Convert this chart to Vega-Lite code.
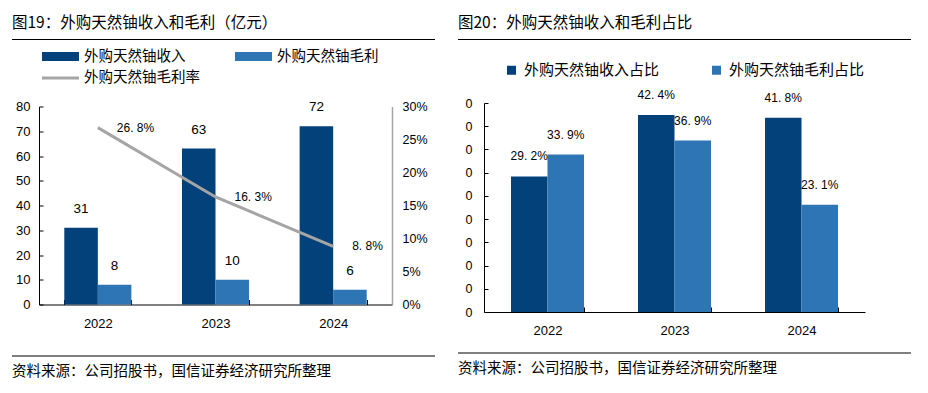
{
  "$schema": "https://vega.github.io/schema/vega-lite/v6.json",
  "padding": {"left": 12, "top": 16, "right": 4, "bottom": 4},
  "background": "white",
  "resolve": {"scale": {"color": "independent", "xOffset": "independent", "x": "independent", "y": "independent"}, "legend": {"color": "independent"}},
  "config": {
    "font": "Liberation Sans",
    "view": {"stroke": null},
    "title": {"font": "Noto Sans CJK SC", "fontWeight": "normal", "color": "#000", "anchor": "start", "frame": "group"},
    "axis": {"labelColor": "#000", "domainColor": "#000", "tickColor": "#000", "grid": false, "labelFont": "Liberation Sans", "labelFontSize": 13, "labelOverlap": false},
    "legend": {"labelFont": "Noto Sans CJK SC", "labelColor": "#000", "padding": 0, "labelLimit": 400}
  },
  "datasets": {
    "bars": [
      {"year": "2022", "series": "外购天然铀收入", "value": 31},
      {"year": "2022", "series": "外购天然铀毛利", "value": 8},
      {"year": "2023", "series": "外购天然铀收入", "value": 63},
      {"year": "2023", "series": "外购天然铀毛利", "value": 10},
      {"year": "2024", "series": "外购天然铀收入", "value": 72},
      {"year": "2024", "series": "外购天然铀毛利", "value": 6}
    ],
    "rate": [
      {"year": "2022", "rate": 0.268, "label": "26. 8%"},
      {"year": "2023", "rate": 0.163, "label": "16. 3%"},
      {"year": "2024", "rate": 0.088, "label": "8. 8%"}
    ],
    "share": [
      {"year": "2022", "kind": "外购天然铀收入占比", "share": 0.292, "label": "29. 2%"},
      {"year": "2022", "kind": "外购天然铀毛利占比", "share": 0.339, "label": "33. 9%"},
      {"year": "2023", "kind": "外购天然铀收入占比", "share": 0.424, "label": "42. 4%"},
      {"year": "2023", "kind": "外购天然铀毛利占比", "share": 0.369, "label": "36. 9%"},
      {"year": "2024", "kind": "外购天然铀收入占比", "share": 0.418, "label": "41. 8%"},
      {"year": "2024", "kind": "外购天然铀毛利占比", "share": 0.231, "label": "23. 1%"}
    ]
  },
  "hconcat": [
    {
      "spacing": 19.5,
      "resolve": {"scale": {"color": "independent", "xOffset": "independent"}, "legend": {"color": "independent"}},
      "vconcat": [
        {
          "spacing": 3.5,
          "resolve": {"scale": {"color": "independent", "xOffset": "independent"}, "legend": {"color": "independent"}},
          "vconcat": [
            {
              "width": 423, "height": 1,
              "view": {"fill": "#000", "stroke": null},
              "title": {"text": "图19：外购天然铀收入和毛利（亿元）", "fontSize": 15.5, "offset": 2},
              "data": {"values": [{}]},
              "mark": {"type": "text"},
              "encoding": {"text": {"value": ""}}
            },
            {
              "width": 423, "height": 198,
              "resolve": {"scale": {"y": "independent"}},
              "layer": [
                {
                  "data": {"name": "bars"},
                  "layer": [
                    {
                      "mark": {"type": "bar"},
                      "encoding": {
                        "x": {"field": "year", "type": "nominal", "scale": {"range": [27, 380], "paddingInner": 0.43, "paddingOuter": 0.215},
                              "axis": {"title": null, "labelAngle": 0, "tickBand": "extent", "tickSize": -5, "labelPadding": 17.5}},
                        "xOffset": {"field": "series", "type": "nominal", "scale": {"paddingOuter": 0, "paddingInner": 0}},
                        "y": {"field": "value", "type": "quantitative", "scale": {"domain": [0, 80], "nice": false},
                              "axis": {"orient": "left", "offset": -27, "title": null, "values": [0, 10, 20, 30, 40, 50, 60, 70, 80], "tickSize": -4, "labelPadding": 13}},
                        "color": {"field": "series", "type": "nominal",
                                  "scale": {"domain": ["外购天然铀收入", "外购天然铀毛利", "外购天然铀毛利率"], "range": ["#02417A", "#2E75B6", "#A5A5A5"]},
                                  "legend": {"orient": "none", "legendX": 30, "legendY": -57.5, "title": null, "columns": 2, "direction": "horizontal",
                                             "columnPadding": 35, "rowPadding": 5.5, "labelFontSize": 14.5, "labelOffset": 5, "symbolSize": 1369, "symbolStrokeWidth": 0, "clipHeight": 15,
                                             "encode": {"symbols": {"update": {
                                               "shape": {"signal": "datum.value === '外购天然铀毛利率' ? 'M-1,-0.08H1V0.08H-1Z' : 'M-1,-0.243H1V0.243H-1Z'"},
                                               "fill": {"signal": "datum.value === '外购天然铀收入' ? '#02417A' : datum.value === '外购天然铀毛利' ? '#2E75B6' : '#A5A5A5'"},
                                               "opacity": {"value": 1}, "fillOpacity": {"value": 1}
                                             }}}}}
                      }
                    },
                    {
                      "mark": {"type": "text", "dy": -19, "baseline": "middle", "fontSize": 13.5, "color": "#000"},
                      "encoding": {
                        "x": {"field": "year", "type": "nominal", "scale": {"range": [27, 380], "paddingInner": 0.43, "paddingOuter": 0.215},
                              "axis": {"title": null, "labelAngle": 0, "tickBand": "extent", "tickSize": -5, "labelPadding": 17.5}},
                        "xOffset": {"field": "series", "type": "nominal", "scale": {"paddingOuter": 0, "paddingInner": 0}},
                        "y": {"field": "value", "type": "quantitative", "scale": {"domain": [0, 80], "nice": false},
                              "axis": {"orient": "left", "offset": -27, "title": null, "values": [0, 10, 20, 30, 40, 50, 60, 70, 80], "tickSize": -4, "labelPadding": 13}},
                        "text": {"field": "value", "type": "quantitative"}
                      }
                    }
                  ]
                },
                {
                  "data": {"name": "rate"},
                  "layer": [
                    {
                      "mark": {"type": "line", "strokeWidth": 3},
                      "encoding": {
                        "x": {"field": "year", "type": "nominal", "scale": {"range": [27, 380], "paddingInner": 0.43, "paddingOuter": 0.215},
                              "axis": {"title": null, "labelAngle": 0, "tickBand": "extent", "tickSize": -5, "labelPadding": 17.5}},
                        "y": {"field": "rate", "type": "quantitative", "scale": {"domain": [0, 0.3], "nice": false},
                              "axis": {"orient": "right", "offset": -43, "title": null, "values": [0, 0.05, 0.1, 0.15, 0.2, 0.25, 0.3], "format": ".0%", "ticks": false, "labelPadding": 10, "domainColor": "#A5A5A5", "domainWidth": 1.5, "labelFontSize": 12.5}},
                        "color": {"datum": "外购天然铀毛利率", "type": "nominal"}
                      }
                    },
                    {
                      "mark": {"type": "text", "align": "left", "dx": 19, "baseline": "middle", "fontSize": 12, "color": "#000"},
                      "encoding": {
                        "x": {"field": "year", "type": "nominal", "scale": {"range": [27, 380], "paddingInner": 0.43, "paddingOuter": 0.215},
                              "axis": {"title": null, "labelAngle": 0, "tickBand": "extent", "tickSize": -5, "labelPadding": 17.5}},
                        "y": {"field": "rate", "type": "quantitative", "scale": {"domain": [0, 0.3], "nice": false},
                              "axis": {"orient": "right", "offset": -43, "title": null, "values": [0, 0.05, 0.1, 0.15, 0.2, 0.25, 0.3], "format": ".0%", "ticks": false, "labelPadding": 10, "domainColor": "#A5A5A5", "domainWidth": 1.5, "labelFontSize": 12.5}},
                        "text": {"field": "label", "type": "nominal"}
                      }
                    }
                  ]
                }
              ]
            }
          ]
        },
        {
          "width": 423, "height": 1,
          "view": {"fill": "#000", "stroke": null},
          "title": {"text": "资料来源：公司招股书，国信证券经济研究所整理", "orient": "bottom", "fontSize": 14.5, "offset": 4},
          "data": {"values": [{}]},
          "mark": {"type": "text"},
          "encoding": {"text": {"value": ""}}
        }
      ]
    },
    {
      "spacing": 8.5,
      "resolve": {"scale": {"color": "independent", "xOffset": "independent"}, "legend": {"color": "independent"}},
      "vconcat": [
        {
          "spacing": 17,
          "resolve": {"scale": {"color": "independent", "xOffset": "independent"}, "legend": {"color": "independent"}},
          "vconcat": [
            {
              "width": 453, "height": 1,
              "view": {"fill": "#000", "stroke": null},
              "title": {"text": "图20：外购天然铀收入和毛利占比", "fontSize": 15.5, "offset": 2},
              "data": {"values": [{}]},
              "mark": {"type": "text"},
              "encoding": {"text": {"value": ""}}
            },
            {
              "width": 453, "height": 209,
              "data": {"name": "share"},
              "layer": [
                {
                  "mark": {"type": "bar"},
                  "encoding": {
                    "x": {"field": "year", "type": "nominal", "scale": {"range": [26, 407], "paddingInner": 0.425, "paddingOuter": 0.2125},
                          "axis": {"title": null, "labelAngle": 0, "tickBand": "extent", "tickSize": -5, "labelPadding": 17.5}},
                    "xOffset": {"field": "kind", "type": "nominal", "scale": {"paddingOuter": 0, "paddingInner": 0}},
                    "y": {"field": "share", "type": "quantitative", "scale": {"domain": [0, 0.45], "nice": false},
                          "axis": {"title": null, "offset": -26, "values": [0, 0.05, 0.1, 0.15, 0.2, 0.25, 0.3, 0.35, 0.4, 0.45], "labelExpr": "'0'", "tickSize": -4, "labelPadding": 16, "labelFontSize": 12.5}},
                    "color": {"field": "kind", "type": "nominal",
                              "scale": {"domain": ["外购天然铀收入占比", "外购天然铀毛利占比"], "range": ["#02417A", "#2E75B6"]},
                              "legend": {"orient": "none", "legendX": 46, "legendY": -40.5, "title": null, "columns": 2, "direction": "horizontal", "clipHeight": 15,
                                         "columnPadding": 49, "labelFontSize": 15, "labelOffset": 5, "symbolType": "square", "symbolSize": 81, "symbolStrokeWidth": 0, "symbolOpacity": 1}}
                  }
                },
                {
                  "mark": {"type": "text", "dy": -20, "baseline": "middle", "fontSize": 12, "color": "#000"},
                  "encoding": {
                    "x": {"field": "year", "type": "nominal", "scale": {"range": [26, 407], "paddingInner": 0.425, "paddingOuter": 0.2125},
                          "axis": {"title": null, "labelAngle": 0, "tickBand": "extent", "tickSize": -5, "labelPadding": 17.5}},
                    "xOffset": {"field": "kind", "type": "nominal", "scale": {"paddingOuter": 0, "paddingInner": 0}},
                    "y": {"field": "share", "type": "quantitative", "scale": {"domain": [0, 0.45], "nice": false},
                          "axis": {"title": null, "offset": -26, "values": [0, 0.05, 0.1, 0.15, 0.2, 0.25, 0.3, 0.35, 0.4, 0.45], "labelExpr": "'0'", "tickSize": -4, "labelPadding": 16, "labelFontSize": 12.5}},
                    "text": {"field": "label", "type": "nominal"}
                  }
                }
              ]
            }
          ]
        },
        {
          "width": 453, "height": 1,
          "view": {"fill": "#000", "stroke": null},
          "title": {"text": "资料来源：公司招股书，国信证券经济研究所整理", "orient": "bottom", "fontSize": 14.5, "offset": 4},
          "data": {"values": [{}]},
          "mark": {"type": "text"},
          "encoding": {"text": {"value": ""}}
        }
      ]
    }
  ],
  "spacing": 23
}
